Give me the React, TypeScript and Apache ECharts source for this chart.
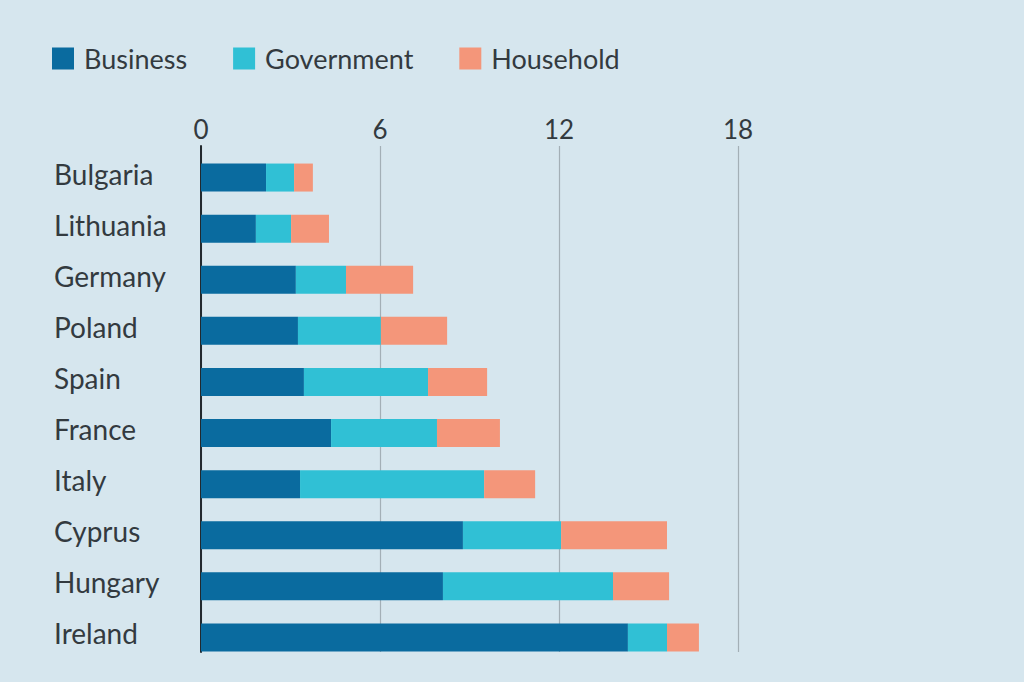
import React, { useEffect, useRef } from "react";
import * as echarts from "echarts";

const countries = ["Bulgaria", "Lithuania", "Germany", "Poland", "Spain", "France", "Italy", "Cyprus", "Hungary", "Ireland"];
const business = [2.18, 1.84, 3.18, 3.25, 3.45, 4.36, 3.32, 8.78, 8.11, 14.31];
const government = [0.94, 1.18, 1.68, 2.78, 4.16, 3.55, 6.17, 3.29, 5.7, 1.31];
const household = [0.63, 1.27, 2.25, 2.22, 1.98, 2.11, 1.71, 3.55, 1.88, 1.07];
const xTicks = [0, 6, 12, 18];

const BG = "#d6e6ee";
const TEXT = "#333a3f";
const FONT = "Lato, 'Open Sans', sans-serif";

export default function App() {
  const ref = useRef<HTMLDivElement>(null);
  useEffect(() => {
    if (!ref.current) return;
    const chart = echarts.init(ref.current, null, { renderer: "svg" });
    const mk = (name: string, data: number[], color: string) => ({
      name,
      type: "bar",
      stack: "total",
      xAxisIndex: 1,
      yAxisIndex: 1,
      barWidth: 28,
      data,
      itemStyle: { color },
    });
    chart.setOption({
      animation: false,
      backgroundColor: BG,
      textStyle: { fontFamily: FONT },
      legend: {
        left: 47,
        top: 40,
        itemWidth: 22,
        itemHeight: 22,
        itemGap: 46,
        icon: "rect",
        textStyle: { fontSize: 27, color: TEXT, fontFamily: FONT, padding: [0, 0, 0, 5] },
        data: ["Business", "Government", "Household"],
      },
      grid: [
        { left: 201, width: 537, top: 146, height: 506 },
        { left: 201, width: 537, top: 152, height: 511 },
      ],
      xAxis: [
        {
          type: "value",
          gridIndex: 0,
          position: "top",
          min: xTicks[0],
          max: xTicks[xTicks.length - 1],
          interval: xTicks[1] - xTicks[0],
          axisLine: { show: false },
          axisTick: { show: false },
          axisLabel: { fontSize: 26, color: TEXT, fontFamily: FONT, margin: 4 },
          splitLine: { show: true, lineStyle: { color: "#a3afb6", width: 1.2 } },
        },
        {
          type: "value",
          gridIndex: 1,
          min: xTicks[0],
          max: xTicks[xTicks.length - 1],
          show: false,
        },
      ],
      yAxis: [
        {
          type: "value",
          gridIndex: 0,
          min: 0,
          max: 1,
          axisLine: { show: true, lineStyle: { color: "#22292e", width: 2 } },
          axisTick: { show: false },
          axisLabel: { show: false },
          splitLine: { show: false },
        },
        {
          type: "category",
          gridIndex: 1,
          inverse: true,
          data: countries,
          axisLine: { show: false },
          axisTick: { show: false },
          axisLabel: {
            color: TEXT,
            fontFamily: FONT,
            align: "left",
            margin: 147,
            formatter: (v: string) => "{c|" + v + "}",
            rich: {
              c: {
                fontSize: 28,
                color: TEXT,
                fontFamily: FONT,
                padding: [0, 0, 8, 0],
              },
            },
          },
        },
      ],
      series: [
        mk("Business", business, "#0a6b9f"),
        mk("Government", government, "#30c0d5"),
        mk("Household", household, "#f4967a"),
      ],
    });
    return () => chart.dispose();
  }, []);
  return <div ref={ref} style={{ position: "fixed", left: 0, top: 0, width: 1024, height: 682 }} />;
}
